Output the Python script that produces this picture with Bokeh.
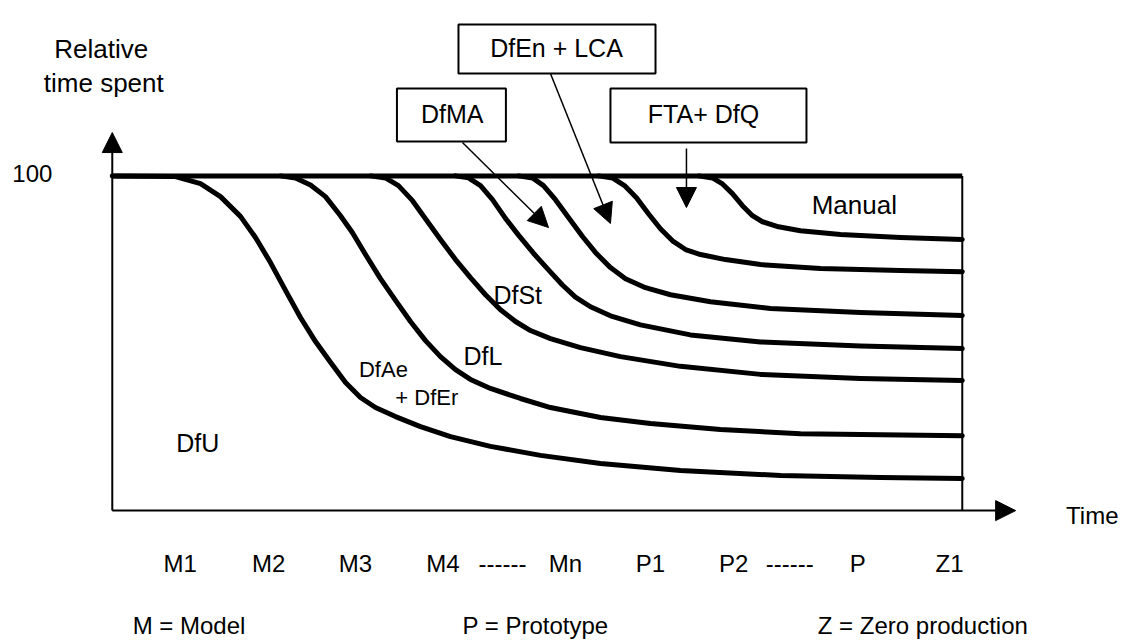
from bokeh.plotting import figure
from bokeh.models import Range1d, Arrow, NormalHead
from bokeh.core.properties import value
from bokeh.embed import file_html
from bokeh.resources import INLINE

FONT = "Liberation Sans"

# ---- curves: time (0..100) vs relative time spent (0..100) ----
c1_x = [0, 7.44, 10.38, 12.73, 15.08, 16.85, 18.61, 20.38, 22.14, 23.91, 25.67, 27.44, 29.2, 30.96,
        33.32, 36.26, 39.79, 44.49, 50.38, 57.44, 66.85, 78.61, 90.38, 100]
c1_y = [100, 99.8, 97.7, 93.8, 87.9, 81.6, 74.1, 65.8, 57.7, 50.5, 44.3, 38.3, 33.8, 30.8,
        28.1, 25.1, 22.1, 19.2, 16.5, 14.1, 12.0, 10.5, 9.9, 9.6]

c2_x = [19.79, 21.55, 23.32, 25.08, 26.85, 28.26, 29.79, 31.55, 33.32, 35.08, 36.85, 38.61, 40.38,
        42.14, 44.49, 48.02, 51.55, 57.44, 63.32, 71.55, 80.96, 100]
c2_y = [100, 99.4, 97.3, 93.8, 88.1, 83.0, 76.5, 69.3, 62.8, 56.5, 50.8, 46.0, 42.1,
        39.2, 36.5, 33.5, 30.8, 27.8, 26.0, 24.2, 23.0, 22.4]

c3_x = [30.38, 32.14, 33.67, 35.32, 37.08, 38.61, 40.38, 42.14, 43.91, 45.67, 47.44, 49.2, 51.55,
        55.08, 59.79, 66.85, 76.26, 88.02, 100]
c3_y = [100, 99.4, 97.1, 92.6, 86.4, 81.0, 75.0, 69.6, 64.5, 60.0, 56.5, 53.8, 51.4,
        48.7, 46.0, 43.1, 40.7, 39.5, 38.9]

c4_x = [40.38, 41.91, 43.32, 44.73, 46.26, 47.79, 49.55, 51.32, 52.96, 54.49, 56.26, 58.61, 62.14,
        68.02, 76.26, 88.02, 100]
c4_y = [100, 99.4, 97.1, 92.9, 87.3, 82.3, 76.9, 71.9, 67.4, 63.8, 60.9, 58.2, 55.5,
        52.5, 50.4, 49.2, 48.4]

c5_x = [47.79, 49.44, 50.73, 52.14, 53.67, 55.32, 56.96, 58.61, 60.38, 62.73, 65.67, 70.38, 77.44,
        88.02, 100]
c5_y = [100, 99.4, 97.1, 92.9, 87.6, 81.9, 76.8, 72.6, 69.3, 66.6, 64.5, 62.4, 60.4,
        59.2, 58.3]

c6_x = [57.2, 58.85, 60.26, 61.67, 63.08, 64.49, 65.91, 67.44, 69.2, 72.14, 76.26, 83.32, 92.73, 100]
c6_y = [100, 99.4, 97.1, 93.5, 88.7, 84.2, 80.6, 78.0, 76.5, 75.0, 73.5, 72.3, 71.7, 71.4]

c7_x = [68.96, 70.61, 71.79, 72.96, 74.14, 75.32, 76.49, 78.38, 80.96, 85.67, 92.73, 100]
c7_y = [100, 99.4, 97.6, 94.7, 91.1, 88.1, 86.3, 84.8, 83.6, 82.5, 81.6, 81.0]

curves = [(c1_x, c1_y), (c2_x, c2_y), (c3_x, c3_y), (c4_x, c4_y),
          (c5_x, c5_y), (c6_x, c6_y), (c7_x, c7_y)]

# ---- region labels ----
region_text = ["DfU", "DfL", "DfSt", "Manual"]
region_x = [10.05, 43.6, 47.7, 87.3]
region_y = [20.3, 46.3, 64.3, 91.4]

small_text = ["DfAe", "+ DfEr"]
small_x = [31.9, 37.0]
small_y = [42.1, 33.8]

# ---- x-axis milestone labels ----
tick_labels = ["M1", "M2", "M3", "M4", "------", "Mn", "P1", "P2", "------", "P", "Z1"]
tick_pos = [8.0, 18.4, 28.6, 38.9, 45.9, 53.3, 63.3, 73.1, 79.7, 87.7, 98.5]

legend_text = ["M = Model", "P = Prototype", "Z = Zero production"]
legend_x = [2.4, 41.2, 83.0]

# ---- call-out boxes ----
box_text = ["DfMA", "DfEn + LCA", "FTA+ DfQ"]
box_cx = [39.9, 52.32, 70.14]
box_cy = [118.19, 137.9, 118.04]
box_w = [12.82, 23.18, 23.06]
box_h = [15.84, 14.64, 16.14]
box_tx = [40.0, 52.26, 69.55]
box_ty = [118.6, 138.35, 118.6]

arrow_x0 = [41.2, 51.55, 67.55]
arrow_y0 = [109.97, 130.58, 108.18]
arrow_x1 = [51.32, 58.61, 67.55]
arrow_y1 = [84.58, 85.77, 90.55]

p = figure(width=1122, height=642, x_range=Range1d(-13.15, 118.85), y_range=Range1d(-39.4, 152.4),
           output_backend="svg", toolbar_location=None, x_axis_type=None, y_axis_type=None,
           min_border=0, min_border_left=0, min_border_right=0, min_border_top=0, min_border_bottom=0)
p.grid.visible = False
p.outline_line_color = None
p.background_fill_color = "white"

# curves
for cx, cy in curves:
    p.line(cx, cy, line_color="black", line_width=5, line_join="round", line_cap="round")

# top line at 100 and right border
p.line([0, 100], [100, 100], line_color="black", line_width=5)
p.line([100, 100], [100, 0], line_color="black", line_width=2)

# axes with arrows
p.add_layout(Arrow(end=NormalHead(size=20, fill_color="black", line_color="black"),
                   x_start=0, y_start=0, x_end=0, y_end=112.95, line_width=2, line_color="black"))
p.add_layout(Arrow(end=NormalHead(size=20, fill_color="black", line_color="black"),
                   x_start=0, y_start=0, x_end=106.28, y_end=0, line_width=2, line_color="black"))

# boxes
p.rect(box_cx, box_cy, box_w, box_h, fill_color="white", line_color="black", line_width=2)
p.text(box_tx, box_ty, text=box_text, text_font=value(FONT),
       text_font_size="25px", text_align="center", text_baseline="middle", text_color="black")

# call-out arrows
for x0, y0, x1, y1 in zip(arrow_x0, arrow_y0, arrow_x1, arrow_y1):
    p.add_layout(Arrow(end=NormalHead(size=20, fill_color="black", line_color="black"),
                       x_start=x0, y_start=y0, x_end=x1, y_end=y1, line_width=1.5, line_color="black"))

# region labels
p.text(region_x[:3], region_y[:3], text=region_text[:3], text_font=value(FONT), text_font_size="25px",
       text_align="center", text_baseline="middle", text_color="black")
p.text(region_x[3:], region_y[3:], text=region_text[3:], text_font=value(FONT), text_font_size="26px",
       text_align="center", text_baseline="middle", text_color="black")
p.text(small_x, small_y, text=small_text, text_font=value(FONT), text_font_size="22px",
       text_align="center", text_baseline="middle", text_color="black")

# y axis texts
p.text([-9.4], [100.7], text=["100"], text_font=value(FONT), text_font_size="24px",
       text_align="center", text_baseline="middle", text_color="black")
p.text([-1.3, -1.0], [138.0, 127.9], text=["Relative", "time spent"], text_font=value(FONT),
       text_font_size="26px", text_align="center", text_baseline="middle", text_color="black")

# x axis texts
p.text([115.3], [-1.5], text=["Time"], text_font=value(FONT), text_font_size="24px",
       text_align="center", text_baseline="middle", text_color="black")
p.text(tick_pos, [-15.8] * len(tick_pos), text=tick_labels, text_font=value(FONT),
       text_font_size="24px", text_align="center", text_baseline="middle", text_color="black")
p.text(legend_x, [-34.4] * len(legend_x), text=legend_text, text_font=value(FONT),
       text_font_size="24px", text_align="left", text_baseline="middle", text_color="black")

open("out.html", "w").write(file_html(p, INLINE))
